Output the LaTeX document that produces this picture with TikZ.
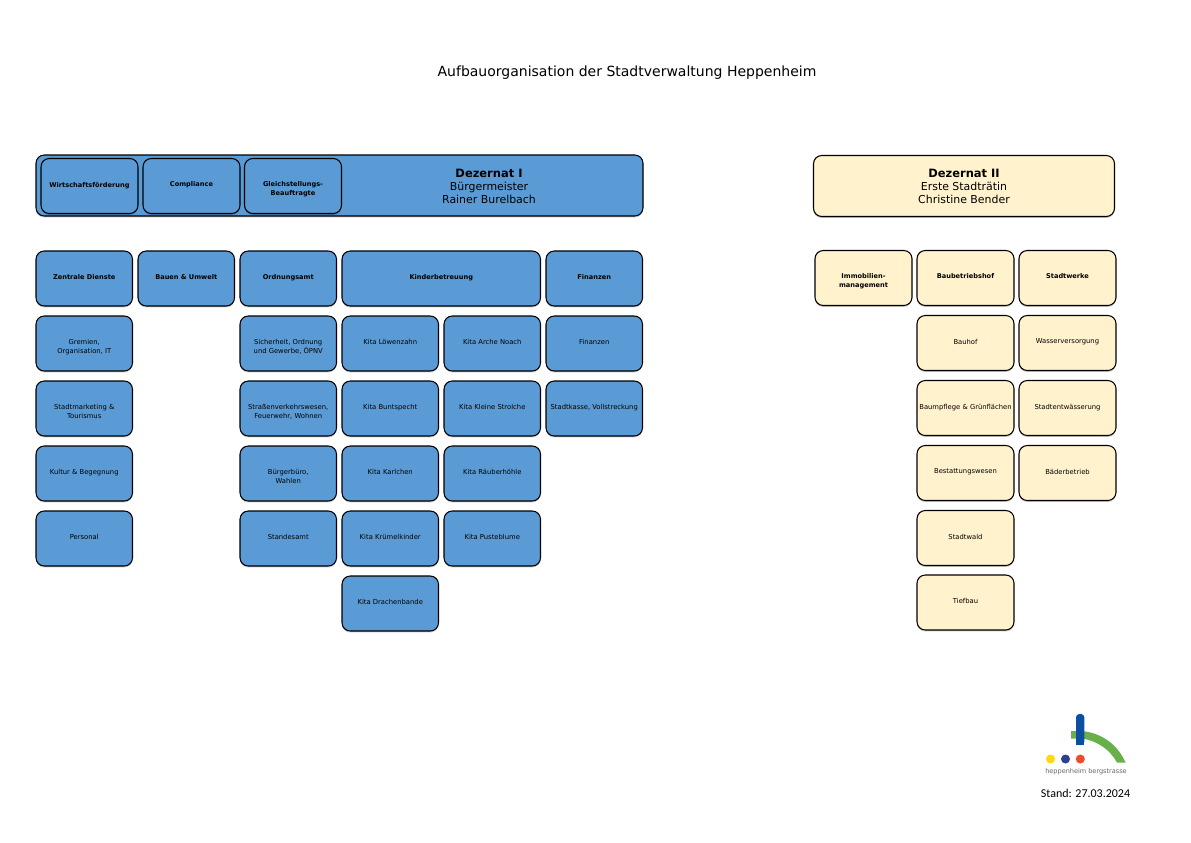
\documentclass[tikz,border=0pt]{standalone}
\usepackage{fontspec}
\setmainfont{DejaVu Sans}
\newfontfamily\standfont{Carlito}
\usetikzlibrary{shadows,calc}
\definecolor{dblue}{HTML}{5B9BD5}
\definecolor{dcream}{HTML}{FFF2CC}
\definecolor{lgreen}{HTML}{6AB04A}
\definecolor{lblue}{HTML}{0B4EA2}
\definecolor{lyellow}{HTML}{FFD90F}
\definecolor{lnavy}{HTML}{2E3F8F}
\definecolor{lred}{HTML}{EE4B2B}
\newlength{\pxu}\setlength{\pxu}{0.75pt}
\tikzset{
  x=0.75pt,y=-0.75pt,
  orgbox/.style={draw=black,line width=0.8pt,rounded corners=6.2pt,inner sep=0pt,anchor=center,
    drop shadow={shadow xshift=0pt,shadow yshift=-1.1pt,fill=black,opacity=.22}},
  blueb/.style={orgbox,fill=dblue},
  creamb/.style={orgbox,fill=dcream},
  headtext/.style={align=center,inner sep=0pt,font=\fontsize{8.2}{10}\selectfont},
}
% #1 name, #2 style, #3 left, #4 top, #5 width, #6 height, #7 text
\newcommand{\obox}[7]{%
  \node[#2] (#1) at ({#3+#5/2},{#4+#6/2}) {%
    \begin{minipage}[c][#6\pxu][t]{#5\pxu}\centering
    \vspace*{23.4\pxu}\fontsize{5.1}{6.75}\selectfont #7\end{minipage}};}
\newcommand{\bfs}[1]{\textbf{\fontsize{4.95}{6.6}\selectfont #1}}
\begin{document}
\begin{tikzpicture}
\useasboundingbox (0,0) rectangle (1191,842);
\node[inner sep=0pt,font=\fontsize{10.5}{12}\selectfont] (title) at (627,72.5) {Aufbauorganisation der Stadtverwaltung Heppenheim};

% Dezernat I
\node[blueb,minimum width=607\pxu,minimum height=61\pxu] (dez1) at (339.5,185.5) {};
\node[headtext] (dez1t) at (489,186.5) {\textbf{\fontsize{8.6}{10}\selectfont Dezernat I}\\Bürgermeister\\Rainer Burelbach};
\obox{wf}{blueb}{41}{158.5}{97}{55}{\bfs{Wirtschaftsförderung}}
\obox{comp}{blueb}{143}{158.5}{97}{55}{\bfs{Compliance}}
\obox{gleich}{blueb}{244.5}{158.5}{97}{55}{\bfs{Gleichstellungs-\\Beauftragte}}

% Dezernat I head row
\obox{zd}{blueb}{36}{251}{96.5}{55}{\bfs{Zentrale Dienste}}
\obox{bu}{blueb}{138}{251}{96.5}{55}{\bfs{Bauen \& Umwelt}}
\obox{oa}{blueb}{240}{251}{96.5}{55}{\bfs{Ordnungsamt}}
\obox{kb}{blueb}{342}{251}{198.5}{55}{\bfs{Kinderbetreuung}}
\obox{fin}{blueb}{546}{251}{96.5}{55}{\bfs{Finanzen}}

% Column 1
\obox{gremien}{blueb}{36}{316}{96.5}{55}{Gremien,\\Organisation, IT}
\obox{stadtm}{blueb}{36}{381}{96.5}{55}{Stadtmarketing \&\\Tourismus}
\obox{kultur}{blueb}{36}{446}{96.5}{55}{Kultur \& Begegnung}
\obox{personal}{blueb}{36}{511}{96.5}{55}{Personal}
% Column 3
\obox{sich}{blueb}{240}{316}{96.5}{55}{Sicherheit, Ordnung\\und Gewerbe, ÖPNV}
\obox{strasse}{blueb}{240}{381}{96.5}{55}{Straßenverkehrswesen,\\Feuerwehr, Wohnen}
\obox{buerger}{blueb}{240}{446}{96.5}{55}{Bürgerbüro,\\Wahlen}
\obox{standes}{blueb}{240}{511}{96.5}{55}{Standesamt}
% Column 4
\obox{k1}{blueb}{342}{316}{96.5}{55}{Kita Löwenzahn}
\obox{k2}{blueb}{342}{381}{96.5}{55}{Kita Buntspecht}
\obox{k3}{blueb}{342}{446}{96.5}{55}{Kita Karlchen}
\obox{k4}{blueb}{342}{511}{96.5}{55}{Kita Krümelkinder}
\obox{k5}{blueb}{342}{576}{96.5}{55}{Kita Drachenbande}
% Column 5
\obox{k6}{blueb}{444}{316}{96.5}{55}{Kita Arche Noach}
\obox{k7}{blueb}{444}{381}{96.5}{55}{Kita Kleine Strolche}
\obox{k8}{blueb}{444}{446}{96.5}{55}{Kita Räuberhöhle}
\obox{k9}{blueb}{444}{511}{96.5}{55}{Kita Pusteblume}
% Column 6
\obox{fin2}{blueb}{546}{316}{96.5}{55}{Finanzen}
\obox{kasse}{blueb}{546}{381}{96.5}{55}{Stadtkasse, Vollstreckung}

% Dezernat II
\node[creamb,minimum width=301\pxu,minimum height=61\pxu] (dez2) at (964,186) {};
\node[headtext] (dez2t) at (964,186.5) {\textbf{\fontsize{8.6}{10}\selectfont Dezernat II}\\Erste Stadträtin\\Christine Bender};
\obox{imm}{creamb}{815}{250.5}{97}{55}{\bfs{Immobilien-\\management}}
\obox{bbh}{creamb}{917}{250.5}{97}{55}{\bfs{Baubetriebshof}}
\obox{sw}{creamb}{1019}{250.5}{97}{55}{\bfs{Stadtwerke}}
\obox{bauhof}{creamb}{917}{315.5}{97}{55}{Bauhof}
\obox{baum}{creamb}{917}{380.5}{97}{55}{Baumpflege \& Grünflächen}
\obox{best}{creamb}{917}{445.5}{97}{55}{Bestattungswesen}
\obox{wald}{creamb}{917}{510.5}{97}{55}{Stadtwald}
\obox{tief}{creamb}{917}{575}{97}{55}{Tiefbau}
\obox{wasser}{creamb}{1019}{315.5}{97}{55}{Wasserversorgung}
\obox{entw}{creamb}{1019}{380.5}{97}{55}{Stadtentwässerung}
\obox{baeder}{creamb}{1019}{445.5}{97}{55}{Bäderbetrieb}

% Logo
\fill[lgreen] (1071,731) -- (1082,731) .. controls (1102,733) and (1118,745) .. (1125.5,762.5)
  -- (1117,762.5) .. controls (1110,750) and (1098,741) .. (1082,738.5) -- (1071,738.5) -- cycle;
\fill[lblue,rounded corners=2.5pt] (1076,745) -- (1076,714) -- (1084.3,714) -- (1084.3,745) -- cycle;
\fill[lblue] (1076,738) rectangle (1084.3,745);
\fill[lyellow] (1050.5,759) circle[radius=4.5];
\fill[lnavy] (1065.5,759) circle[radius=4.5];
\fill[lred] (1080.3,759) circle[radius=4.5];
\node[inner sep=0pt,text=black!60,font=\fontsize{4.9}{6}\selectfont] (logotext) at (1086,771.5) {heppenheim bergstrasse};
\node[inner sep=0pt,font=\standfont\fontsize{9}{10}\selectfont] (stand) at (1085.5,793) {Stand: 27.03.2024};
\end{tikzpicture}
\end{document}
